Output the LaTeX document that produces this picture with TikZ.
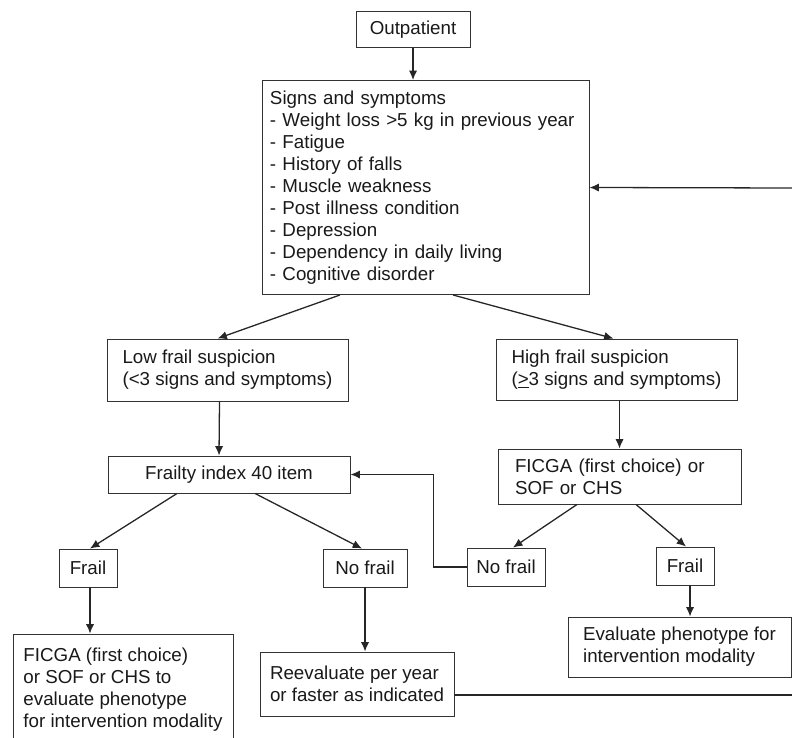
\documentclass[tikz,border=0pt]{standalone}
\usepackage{fontspec}
\setmainfont{Liberation Sans}
\usepackage{tikz}
\usetikzlibrary{arrows.meta, positioning, calc}

\begin{document}
\begin{tikzpicture}[
    x=0.03cm, y=-0.03cm,
    box/.style={draw=black!80, line width=0.8pt, align=left, inner sep=0.27cm,
                font=\fontsize{16}{18.8}\selectfont, text=black!90},
    arr/.style={-{Latex[length=8pt,width=7pt]}, line width=1.1pt, draw=black!85}
]
    \useasboundingbox (0,0) rectangle (792,738);

    \node[box, align=center, minimum width=3.42cm, minimum height=0.99cm] (outpatient) at (413,29.5) {Outpatient};
    \node[box, text width=9.33cm, inner xsep=0.24cm, minimum height=6.42cm] (signs) at (425.5,187.5)
        {Signs and symptoms\\
         - Weight loss >5 kg in previous year\\
         - Fatigue\\
         - History of falls\\
         - Muscle weakness\\
         - Post illness condition\\
         - Depression\\
         - Dependency in daily living\\
         - Cognitive disorder};
    \node[box, minimum width=7.23cm, minimum height=1.86cm] (lowfrail)  at (227.5,370) {Low frail suspicion\\(<3 signs and symptoms)};
    \node[box, minimum width=7.23cm, minimum height=1.83cm] (highfrail) at (616.5,369.5) {High frail suspicion\\(\underline{>}3 signs and symptoms)};
    \node[box, align=center, minimum width=7.26cm, minimum height=1.11cm] (frailty) at (229,474.5) {Frailty index 40 item};
    \node[box, text width=6.27cm, inner xsep=0.51cm, minimum height=1.65cm] (ficgaR) at (619.5,476.5) {FICGA (first choice) or\\SOF or CHS};
    \node[box, align=center, minimum width=1.74cm, minimum height=1.14cm] (frailL)   at (88,568)  {Frail};
    \node[box, align=center, minimum width=2.52cm, minimum height=1.14cm] (nofrailL) at (365,568) {No frail};
    \node[box, align=center, minimum width=2.34cm, minimum height=1.14cm] (nofrailR) at (506,567) {No frail};
    \node[box, align=center, minimum width=1.74cm, minimum height=1.14cm] (frailR)   at (685,566) {Frail};
    \node[box, minimum width=6.69cm, minimum height=1.80cm] (eval)   at (679.5,647) {Evaluate phenotype for\\intervention modality};
    \node[box, minimum width=5.82cm, minimum height=1.92cm] (reeval) at (357,684) {Reevaluate per year\\or faster as indicated};
    \node[box, minimum width=6.60cm, minimum height=3.36cm] (ficgaL) at (123,690)
        {FICGA (first choice)\\or SOF or CHS to\\evaluate phenotype\\for intervention modality};

    % loop back from the right edge
    \coordinate (edgeTop) at (792,188);
    \coordinate (edgeBot) at (792,695);

    \draw[arr] (outpatient) -- (outpatient |- signs.north);
    \draw[arr] ($(signs.south)+(-85.5,0)$) -- ($(lowfrail.north)+(-10,0)$);
    \draw[arr] ($(signs.south)+(27.5,0)$) -- ($(highfrail.north)+(-3,0)$);
    \draw[arr] ($(lowfrail.south)+(-8,0)$) -- ($(frailty.north)+(-10,0)$);
    \draw[arr] (highfrail.south -| ficgaR) -- (ficgaR.north);

    \draw[arr] ($(frailty.south)+(-52,0)$) -- ($(frailL.north)+(2,0)$);
    \draw[arr] ($(frailty.south)+(26,0)$) -- ($(nofrailL.north)+(-3,0)$);
    \draw[arr] ($(ficgaR.south)+(-42.5,0)$) -- ($(nofrailR.north)+(7,0)$);
    \draw[arr] ($(ficgaR.south)+(16.5,0)$) -- ($(frailR.north)+(1,0)$);

    \draw[arr] ($(frailL.south)+(2,0)$) -- ($(frailL.south |- ficgaL.north)+(2,0)$);
    \draw[arr] (nofrailL.south) -- (nofrailL.south |- reeval.north);
    \draw[arr] ($(frailR.south)+(5,0)$) -- ($(frailR.south |- eval.north)+(5,0)$);

    \draw[arr] (nofrailR.west) -- ++(-33,0) |- (frailty.east);
    \draw[arr] (edgeTop) -- (signs.east);
    \draw[line width=1.1pt, draw=black!85] (edgeBot -| reeval.east) -- (edgeBot);
\end{tikzpicture}
\end{document}
